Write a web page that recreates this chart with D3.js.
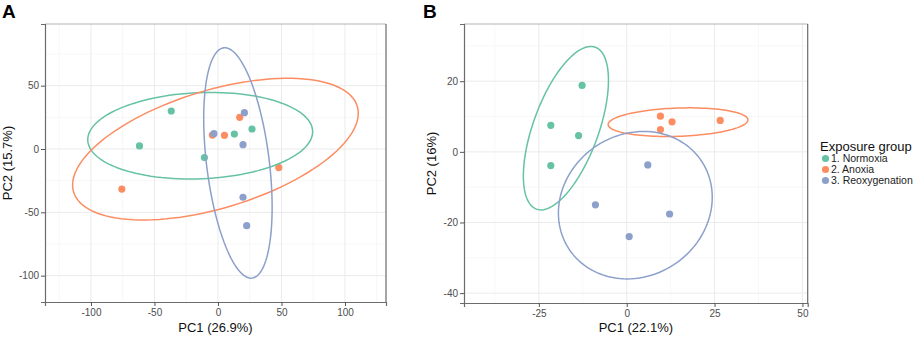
<!DOCTYPE html>
<html>
<head>
<meta charset="utf-8">
<script src="https://cdn.jsdelivr.net/npm/d3@7"></script>
<style>
  body { margin: 0; background: #fff; }
  svg { display: block; font-family: "Liberation Sans", Arial, sans-serif; }
</style>
</head>
<body>
<div id="chart"></div>
<script>
// groups and colours (ColorBrewer Set2)
const groups = ["1. Normoxia", "2. Anoxia", "3. Reoxygenation"];
const groupColors = ["#66C2A5", "#FC8D62", "#8DA0CB"];

// Panel A samples
const a_pc1 = [-36.8, -61.8, -10.7, 12.9, 26.8, -75.7, -4.4, 5.1, 17.1, 47.9, -3.2, 20.8, 19.7, 19.7, 22.6];
const a_pc2 = [30.0, 2.4, -6.8, 11.8, 15.8, -31.6, 11.0, 10.8, 25.0, -14.7, 12.1, 28.7, 3.4, -38.1, -60.5];
const a_grp = [0, 0, 0, 0, 0, 1, 1, 1, 1, 1, 2, 2, 2, 2, 2];

// Panel A ellipses (centre, semi axes, rotation in degrees)
const a_ell_cx = [-14, -2, 15.7];
const a_ell_cy = [10.5, -0.1, -11];
const a_ell_a = [88.6, 116.7, 91.6];
const a_ell_b = [34, 46.5, 24.7];
const a_ell_rot = [2.4, 16.9, 97];

// Panel B samples
const b_pc1 = [-12.7, -21.6, -13.7, -21.6, 9.6, 12.9, 9.6, 26.6, 6.0, -8.9, 12.2, 0.7];
const b_pc2 = [18.8, 7.5, 4.6, -3.9, 10.1, 8.5, 6.3, 8.9, -3.7, -15.0, -17.6, -24.0];
const b_grp = [0, 0, 0, 0, 1, 1, 1, 1, 2, 2, 2, 2];

// Panel B ellipses
const b_ell_cx = [-17.3, 14.6, 2.45];
const b_ell_cy = [6.7, 8.4, -15.1];
const b_ell_a = [24.4, 19.9, 22.6];
const b_ell_b = [9.3, 4.0, 20.1];
const b_ell_rot = [69.9, 1.95, 33];

// axis ticks
const a_xticks = [-100, -50, 0, 50, 100];
const a_yticks = [50, 0, -50, -100];
const b_xticks = [-25, 0, 25, 50];
const b_yticks = [20, 0, -20, -40];

const W = 913, H = 338;
const svg = d3.select("#chart").append("svg")
    .attr("width", W).attr("height", H);

function drawPanel(cfg) {
    const x = d3.scaleLinear().domain(cfg.xdom).range([cfg.left, cfg.right]);
    const y = d3.scaleLinear().domain(cfg.ydom).range([cfg.bottom, cfg.top]);
    const g = svg.append("g");

    // minor grid at midpoints
    const xminor = [], yminor = [];
    const xs = cfg.xticks[1] - cfg.xticks[0];
    for (let v = cfg.xticks[0] - xs / 2; v <= cfg.xdom[1]; v += xs) if (v >= cfg.xdom[0]) xminor.push(v);
    const ysorted = cfg.yticks.slice().sort((p, q) => p - q);
    const ys = ysorted[1] - ysorted[0];
    for (let v = ysorted[0] - ys / 2; v <= cfg.ydom[1]; v += ys) if (v >= cfg.ydom[0]) yminor.push(v);

    g.selectAll(".xminor").data(xminor).join("line")
        .attr("x1", d => x(d)).attr("x2", d => x(d))
        .attr("y1", cfg.top).attr("y2", cfg.bottom)
        .attr("stroke", "#f3f3f3").attr("stroke-width", 0.7);
    g.selectAll(".yminor").data(yminor).join("line")
        .attr("y1", d => y(d)).attr("y2", d => y(d))
        .attr("x1", cfg.left).attr("x2", cfg.right)
        .attr("stroke", "#f3f3f3").attr("stroke-width", 0.7);
    g.selectAll(".xmajor").data(cfg.xticks).join("line")
        .attr("x1", d => x(d)).attr("x2", d => x(d))
        .attr("y1", cfg.top).attr("y2", cfg.bottom)
        .attr("stroke", "#ebebeb").attr("stroke-width", 1);
    g.selectAll(".ymajor").data(cfg.yticks).join("line")
        .attr("y1", d => y(d)).attr("y2", d => y(d))
        .attr("x1", cfg.left).attr("x2", cfg.right)
        .attr("stroke", "#ebebeb").attr("stroke-width", 1);

    // points
    g.selectAll("circle").data(cfg.pc1.map((v, i) => i)).join("circle")
        .attr("cx", i => x(cfg.pc1[i]))
        .attr("cy", i => y(cfg.pc2[i]))
        .attr("r", 3.6)
        .attr("fill", i => groupColors[cfg.grp[i]]);

    // ellipses
    const line = d3.line().x(d => x(d[0])).y(d => y(d[1])).curve(d3.curveLinearClosed);
    groups.forEach((gr, k) => {
        const th = cfg.rot[k] * Math.PI / 180;
        const pts = d3.range(120).map(j => {
            const t = j / 120 * 2 * Math.PI;
            const u = cfg.ea[k] * Math.cos(t), w = cfg.eb[k] * Math.sin(t);
            return [cfg.cx[k] + u * Math.cos(th) - w * Math.sin(th),
                    cfg.cy[k] + u * Math.sin(th) + w * Math.cos(th)];
        });
        g.append("path").attr("d", line(pts))
            .attr("fill", "none")
            .attr("stroke", groupColors[k])
            .attr("stroke-width", 1.5);
    });

    // panel border
    g.append("line").attr("x1", cfg.left).attr("x2", cfg.right)
        .attr("y1", cfg.top).attr("y2", cfg.top)
        .attr("stroke", "#b3b3b3").attr("stroke-width", 1);
    g.append("line").attr("x1", cfg.right).attr("x2", cfg.right)
        .attr("y1", cfg.top).attr("y2", cfg.bottom)
        .attr("stroke", "#6b6b6b").attr("stroke-width", 1.2);

    // axes
    const xAxis = g.append("g").attr("transform", `translate(0,${cfg.bottom})`)
        .call(d3.axisBottom(x).tickValues(cfg.xticks).tickSize(4).tickPadding(3));
    const yAxis = g.append("g").attr("transform", `translate(${cfg.left},0)`)
        .call(d3.axisLeft(y).tickValues(cfg.yticks).tickSize(4).tickPadding(2));
    [xAxis, yAxis].forEach(ax => {
        ax.select(".domain").attr("stroke", "#6b6b6b").attr("stroke-width", 1.2);
        ax.selectAll(".tick line").attr("stroke", "#555");
        ax.selectAll(".tick text").attr("fill", "#4d4d4d")
            .style("font-size", "10px")
            .style("font-family", "'Liberation Sans', Arial, sans-serif")
            .text(d => d < 0 ? "-" + Math.abs(d) : d);
    });

    // titles
    g.append("text").attr("x", (cfg.left + cfg.right) / 2).attr("y", 332)
        .attr("text-anchor", "middle").style("font-size", "13px").attr("fill", "#111")
        .text(cfg.xlab);
    g.append("text")
        .attr("transform", `translate(${cfg.ylabX},${(cfg.top + cfg.bottom) / 2}) rotate(-90)`)
        .attr("text-anchor", "middle").style("font-size", "13px").attr("fill", "#111")
        .text(cfg.ylab);
    g.append("text").attr("x", cfg.tagX).attr("y", 18)
        .style("font-size", "19px").style("font-weight", "bold").attr("fill", "#000")
        .text(cfg.tag);
}

drawPanel({
    left: 45, right: 386, top: 24, bottom: 302,
    xdom: [-136.2, 132.3], ydom: [-120.8, 98.7],
    xticks: a_xticks, yticks: a_yticks,
    pc1: a_pc1, pc2: a_pc2, grp: a_grp,
    cx: a_ell_cx, cy: a_ell_cy, ea: a_ell_a, eb: a_ell_b, rot: a_ell_rot,
    xlab: "PC1 (26.9%)", ylab: "PC2 (15.7%)", ylabX: 12, tag: "A", tagX: 2
});

drawPanel({
    left: 464, right: 807.7, top: 24, bottom: 303,
    xdom: [-46.3, 51.5], ydom: [-42.8, 36.2],
    xticks: b_xticks, yticks: b_yticks,
    pc1: b_pc1, pc2: b_pc2, grp: b_grp,
    cx: b_ell_cx, cy: b_ell_cy, ea: b_ell_a, eb: b_ell_b, rot: b_ell_rot,
    xlab: "PC1 (22.1%)", ylab: "PC2 (16%)", ylabX: 436, tag: "B", tagX: 423
});

// legend
const legend = svg.append("g");
legend.append("text").attr("x", 820).attr("y", 151)
    .style("font-size", "13px").attr("fill", "#111").text("Exposure group");
legend.selectAll("circle").data(groups).join("circle")
    .attr("cx", 825.5).attr("cy", (d, i) => 158.5 + i * 11)
    .attr("r", 3.6).attr("fill", (d, i) => groupColors[i]);
legend.selectAll(".item").data(groups).join("text")
    .attr("x", 831).attr("y", (d, i) => 162.2 + i * 11)
    .style("font-size", "10.5px").attr("fill", "#222")
    .text(d => d);
</script>
</body>
</html>
